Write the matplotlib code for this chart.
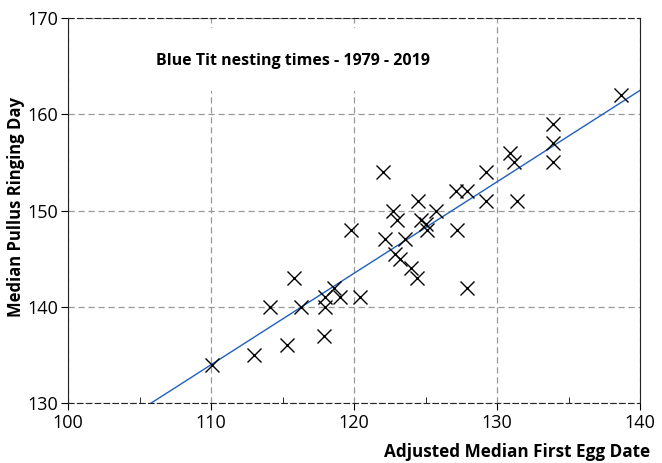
import matplotlib
matplotlib.use("Agg")
import matplotlib.pyplot as plt
import numpy as np
from matplotlib.ticker import MultipleLocator
from matplotlib.patches import Rectangle

plt.rcParams['font.family'] = ['Open Sans', 'DejaVu Sans']

first_egg = [110.1, 113.0, 115.3, 117.9, 114.1, 116.3, 118.0, 119.0, 118.0, 118.6,
             115.8, 120.4, 119.8, 122.0, 122.7, 123.0, 122.2, 123.6, 122.9, 123.2,
             124.0, 124.4, 124.5, 124.7, 125.1, 125.0, 125.7, 127.2, 127.1, 127.9,
             127.9, 129.2, 129.2, 138.7, 133.9, 133.9, 133.9, 130.9, 131.2, 131.4]
ringing = [134, 135, 136, 137, 140, 140, 140, 141, 141, 142,
           143, 141, 148, 154, 150, 149, 147, 147, 145.5, 145,
           144, 143, 151, 149, 148, 148.6, 150, 148, 152, 152,
           142, 154, 151, 162, 159, 157, 155, 156, 155, 151]

title = "Blue Tit nesting times - 1979 - 2019"
xlabel = "Adjusted Median First Egg Date"
ylabel = "Median Pullus Ringing Day"

fig = plt.figure(figsize=(6.62, 4.63), dpi=100)
ax = fig.add_axes([68/662, 1 - 403/463, (640-68)/662, (403-18)/463])
ax.set_xlim(100, 140)
ax.set_ylim(130, 170)

ax.xaxis.set_major_locator(MultipleLocator(10))
ax.xaxis.set_minor_locator(MultipleLocator(5))
ax.yaxis.set_major_locator(MultipleLocator(10))
ax.tick_params(axis='x', which='major', direction='out', length=5, labelsize=13, pad=3)
ax.tick_params(axis='x', which='minor', direction='in', length=4)
ax.tick_params(axis='y', which='major', direction='out', length=5, labelsize=13, pad=2)

ax.grid(True, which='major', linestyle=(0, (5, 3)), color='#999999', linewidth=0.9)
for s in ['top', 'bottom']:
    ax.spines[s].set_linestyle((0, (5, 3)))
    ax.spines[s].set_color('#222222')
for s in ['left', 'right']:
    ax.spines[s].set_color('#222222')

x = np.array(first_egg)
y = np.array(ringing)
slope, intercept = np.polyfit(x, y, 1)
xx = np.array([100, 140])
ax.plot(xx, slope * xx + intercept, color='#1f5fbf', linewidth=1.0, zorder=3)

ax.plot(x, y, linestyle='none', marker='x', markersize=10.5, markeredgewidth=1.0,
        color='black', zorder=4)

# white panel behind the title (hides the grid there)
ax.add_patch(Rectangle((101.0, 162.4), 27.5, 6.6, facecolor='white', edgecolor='none', zorder=2.5))
ax.text(115.7, 165.5, title, ha='center', va='center', fontsize=11.5, fontweight='bold', zorder=5)

fig.text(650/662, 1 - 452/463, xlabel, ha='right', va='center', fontsize=12.3, fontweight='bold')
fig.text(16/662, 1 - 207/463, ylabel, ha='center', va='center', rotation=90, fontsize=12, fontweight='bold')

fig.savefig("out.png", dpi=100)
